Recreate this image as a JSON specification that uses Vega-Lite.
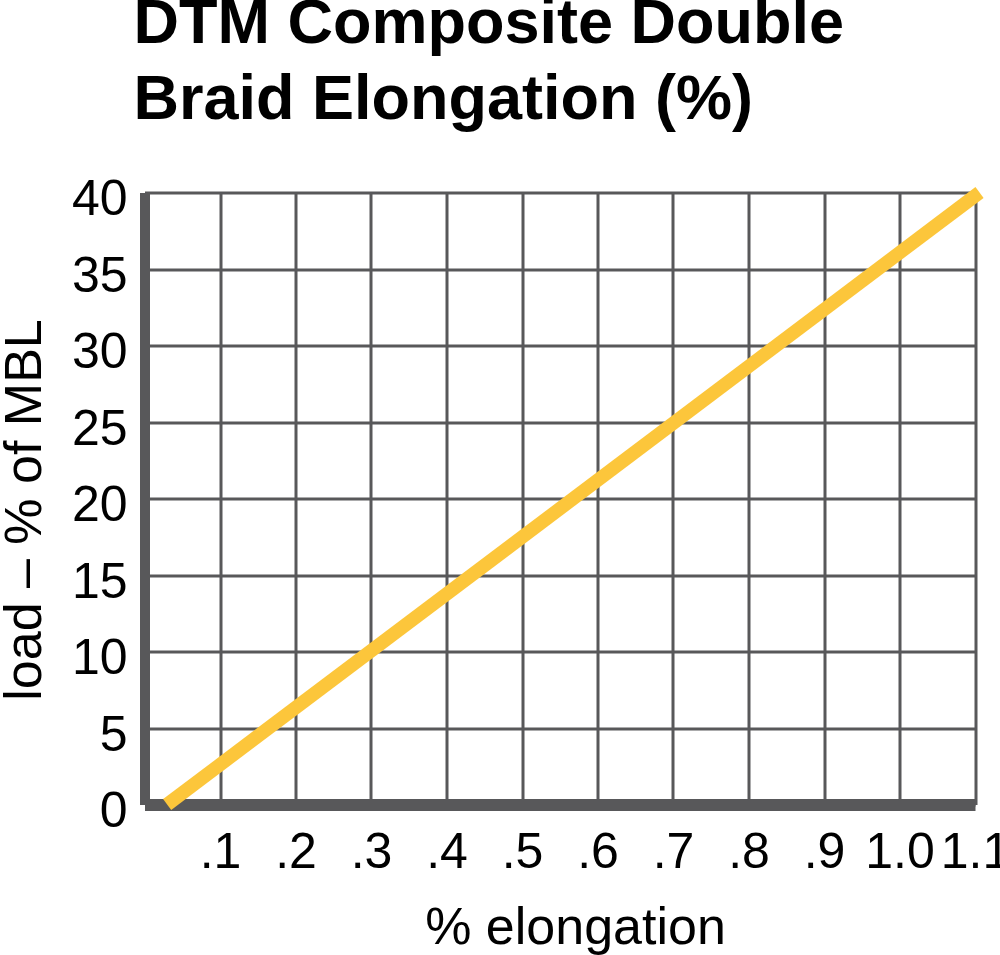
{
  "$schema": "https://vega.github.io/schema/vega-lite/v6.json",
  "autosize": "none",
  "width": 830.5,
  "height": 612,
  "padding": {"left": 144.5, "top": 192.5, "right": 25, "bottom": 150.5},
  "background": "white",
  "title": {
    "text": ["DTM Composite Double", "Braid Elongation (%)"],
    "anchor": "start",
    "frame": "group",
    "font": "Liberation Sans",
    "fontSize": 63,
    "fontWeight": "bold",
    "color": "#000000",
    "lineHeight": 76,
    "dx": -11,
    "offset": 34
  },
  "data": {
    "values": [
      {"elongation": 0.03, "load": 0},
      {"elongation": 1.106, "load": 40}
    ]
  },
  "mark": {"type": "line", "color": "#fcc63b", "strokeWidth": 13.5, "strokeCap": "butt", "clip": false},
  "encoding": {
    "x": {
      "field": "elongation",
      "type": "quantitative",
      "scale": {"domain": [0, 1.1], "nice": false, "zero": false},
      "axis": {
        "values": [0, 0.1, 0.2, 0.3, 0.4, 0.5, 0.6, 0.7, 0.8, 0.9, 1.0, 1.1],
        "labelExpr": "datum.value < 0.05 ? '' : (datum.value < 0.95 ? replace(format(datum.value, '.1f'), '0.', '.') : format(datum.value, '.1f'))",
        "title": "% elongation",
        "titleX": 430.5,
        "titleY": 138.5,
        "titleAlign": "center",
        "titleBaseline": "alphabetic",
        "labelBaseline": "alphabetic",
        "labelAlign": "center",
        "labelPadding": 62.5,
        "domainWidth": 12
      }
    },
    "y": {
      "field": "load",
      "type": "quantitative",
      "scale": {"domain": [0, 40], "nice": false},
      "axis": {
        "values": [0, 5, 10, 15, 20, 25, 30, 35, 40],
        "title": "load – % of MBL",
        "titleX": -104.5,
        "titleY": 317,
        "titleAlign": "center",
        "titleBaseline": "alphabetic",
        "labelAlign": "right",
        "labelBaseline": "alphabetic",
        "labelOffset": 22,
        "labelPadding": 17.5,
        "domainWidth": 10
      }
    }
  },
  "config": {
    "view": {"stroke": null},
    "axis": {
      "zindex": 1,
      "ticks": false,
      "tickSize": 0,
      "domainColor": "#58585a",
      "domainCap": "butt",
      "grid": true,
      "gridColor": "#58585a",
      "gridWidth": 3,
      "gridOpacity": 1,
      "labelFont": "Liberation Sans",
      "labelFontSize": 50,
      "labelColor": "#000000",
      "labelFlush": false,
      "labelOverlap": false,
      "labelBound": false,
      "titleFont": "Liberation Sans",
      "titleFontSize": 52,
      "titleFontWeight": "normal",
      "titleColor": "#000000"
    }
  }
}
